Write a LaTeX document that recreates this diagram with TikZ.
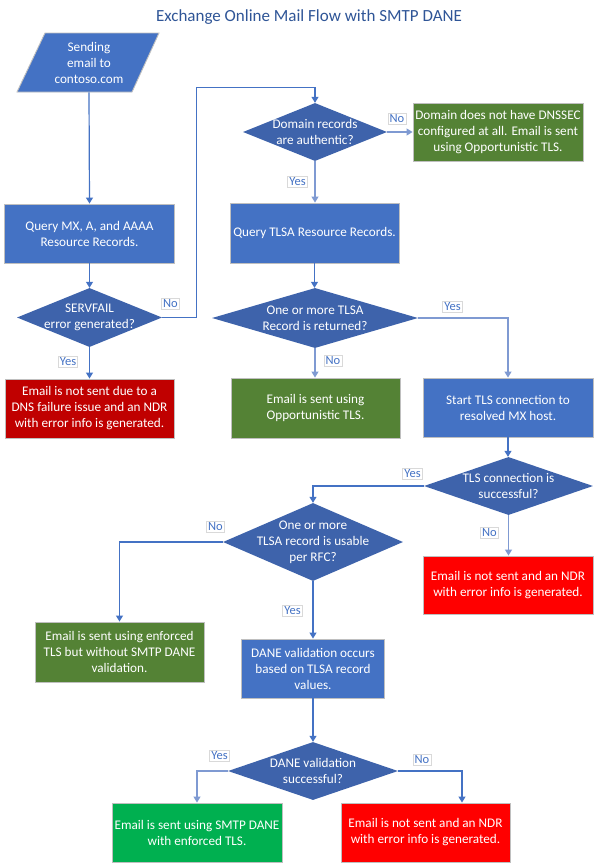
\documentclass[tikz,border=0pt]{standalone}
\usepackage{fontspec}
\setmainfont{Carlito}
\usetikzlibrary{shapes.geometric,arrows.meta,calc}
\definecolor{boxblue}{HTML}{4472C4}
\definecolor{diablue}{HTML}{3E63AB}
\definecolor{dkgreen}{HTML}{548235}
\definecolor{dkred}{HTML}{C00000}
\definecolor{brred}{HTML}{FF0000}
\definecolor{brgreen}{HTML}{00B050}
\definecolor{edgegray}{HTML}{BFBFBF}
\definecolor{lbledge}{HTML}{D9D9D9}
\definecolor{conn}{HTML}{4472C4}
\definecolor{connlt}{HTML}{7F9AD2}
\definecolor{titleblue}{HTML}{2F5597}
\begin{document}
\begin{tikzpicture}[x=1pt,y=-1pt,
  sz/.style 2 args={minimum width=#1pt,minimum height=#2pt},
  box/.style={rectangle,draw=edgegray,line width=0.9pt,text=white,align=center,inner sep=0pt,font=\fontsize{13.2}{16}\selectfont},
  dia/.style={diamond,fill=diablue,inner sep=0pt},
  diatext/.style={text=white,align=center,inner sep=0pt,font=\fontsize{13.2}{16}\selectfont},
  lbl/.style={draw=lbledge,line width=0.6pt,fill=white,text=boxblue,inner xsep=1.6pt,inner ysep=1.4pt,font=\fontsize{12.5}{14}\selectfont},
  arr/.style={draw=conn,line width=1.2pt,-{Triangle[width=7pt,length=6pt]}},
  arrlt/.style={draw=connlt,line width=1.2pt,-{Triangle[width=7pt,length=6pt]}},
  ]
\useasboundingbox (0,0) rectangle (598,865);
\fill[white] (0,0) rectangle (598,865);

% title
\node[anchor=base,text=titleblue,font=\fontsize{17}{20}\selectfont,inner sep=0pt] (title) at (309,21.5) {Exchange Online Mail Flow with SMTP DANE};

% start parallelogram
\filldraw[fill=boxblue,draw=edgegray,line width=0.9pt] (17,92) -- (45,33) -- (159,33) -- (132,92) -- cycle;
\node[box,draw=none,sz={110}{59}] (start) at (89,62.5) {Sending\\email to\\contoso.com};

% boxes
\node[box,fill=boxblue,sz={170}{59}] (b1) at (89.5,233.5) {Query MX, A, and AAAA\\Resource Records.};
\node[box,fill=dkred,sz={169}{59}] (r1) at (89.5,408.5) {Email is not sent due to a\\DNS failure issue and an NDR\\with error info is generated.};
\node[box,fill=dkgreen,sz={170}{58}] (g1) at (498,132) {Domain does not have DNSSEC\\configured at all. Email is sent\\using Opportunistic TLS.};
\node[box,fill=boxblue,sz={169}{60}] (b3) at (314.5,233) {Query TLSA Resource Records.};
\node[box,fill=dkgreen,sz={169}{60}] (g2) at (315.5,408) {Email is sent using\\Opportunistic TLS.};
\node[box,fill=boxblue,sz={170}{59}] (b4) at (508,407.5) {Start TLS connection to\\resolved MX host.};
\node[box,fill=brred,sz={170}{58}] (r2) at (508,585) {Email is not sent and an NDR\\with error info is generated.};
\node[box,fill=dkgreen,sz={169}{60}] (g3) at (119.5,652) {Email is sent using enforced\\TLS but without SMTP DANE\\validation.};
\node[box,fill=boxblue,sz={143}{59}] (b5) at (313,668.5) {DANE validation occurs\\based on TLSA record\\values.};
\node[box,fill=brgreen,sz={170}{59}] (g4) at (197,832.5) {Email is sent using SMTP DANE\\with enforced TLS.};
\node[box,fill=brred,sz={169}{59}] (r3) at (425.5,832.5) {Email is not sent and an NDR\\with error info is generated.};

% diamonds
\node[dia,sz={145}{59}] (d1) at (89.5,317.5) {};
\node[diatext] (d1t) at (d1.center) {SERVFAIL\\error generated?};
\node[dia,sz={144}{58}] (d2) at (315,132) {};
\node[diatext] (d2t) at (d2.center) {Domain records\\are authentic?};
\node[dia,sz={206}{60}] (d3) at (315,318) {};
\node[diatext] (d3t) at (d3.center) {One or more TLSA\\Record is returned?};
\node[dia,sz={169}{58}] (d4) at (508.5,486) {};
\node[diatext] (d4t) at (d4.center) {TLS connection is\\successful?};
\node[dia,sz={180}{78}] (d5) at (313,542) {};
\node[diatext] (d5t) at (d5.center) {One or more\\TLSA record is usable\\per RFC?};
\node[dia,sz={170}{58}] (d6) at (313,771) {};
\node[diatext] (d6t) at (d6.center) {DANE validation\\successful?};

% connectors
\draw[arr] (start.south) -- (b1.north);
\draw[arr] (b1.south) -- (d1.north);
\draw[arr] (d1.south) -- (r1.north);
\draw[arr] (d1.east) -- ++(34,0) |- ([yshift=15pt]d2.north) -- (d2.north);
\draw[arrlt] (d2.east) -- (g1.west);
\draw[arrlt] (d2.south) -- (d2.south |- b3.north);
\draw[arr] (b3.south) -- (b3.south |- d3.north);
\draw[arrlt] (d3.south) -- (d3.south |- g2.north);
\draw[arrlt] (d3.east) -| (b4.north);
\draw[arr] (b4.south) -- (b4.south |- d4.north);
\draw[arrlt] (d4.south) -- (d4.south |- r2.north);
\draw[arr] (d4.west) -| (d5.north);
\draw[arr] (d5.west) -| (g3.north);
\draw[arr] (d5.south) -- (b5.north);
\draw[arr] (b5.south) -- (d6.north);
\draw[arrlt] (d6.west) -| (g4.north);
\draw[arr] (d6.east) -| ([xshift=36.5pt]r3.north);

% labels
\node[lbl] (l1) at (170.5,304) {No};
\node[lbl] (l2) at (68,362) {Yes};
\node[lbl] (l3) at (397,119) {No};
\node[lbl] (l4) at (297.5,182) {Yes};
\node[lbl] (l5) at (452.5,306.5) {Yes};
\node[lbl] (l6) at (333,361) {No};
\node[lbl] (l7) at (412.5,474) {Yes};
\node[lbl] (l8) at (489.5,533) {No};
\node[lbl] (l9) at (215.5,526.5) {No};
\node[lbl] (l10) at (292.5,611) {Yes};
\node[lbl] (l11) at (219.5,755.5) {Yes};
\node[lbl] (l12) at (422,759.5) {No};
\end{tikzpicture}
\end{document}
